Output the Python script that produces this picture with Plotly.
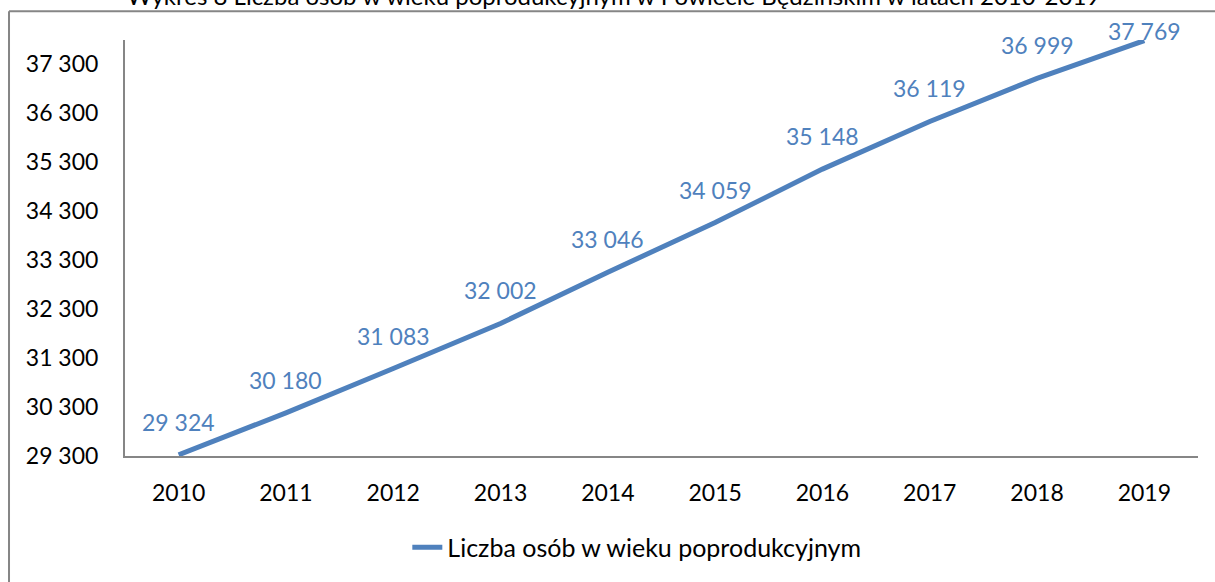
import plotly.graph_objects as go

# --- data ---
years = ["2010", "2011", "2012", "2013", "2014", "2015", "2016", "2017", "2018", "2019"]
values = [29324, 30180, 31083, 32002, 33046, 34059, 35148, 36119, 36999, 37769]
label_shift = [33, 33, 33, 33, 33, 33, 33, 33, 33, 10]

series_name = "Liczba osób w wieku poprodukcyjnym"
title_text = "Wykres 8 Liczba osób w wieku poprodukcyjnym w Powiecie Będzińskim w latach 2010-2019"

BLUE = "#4F81BD"
GRAY = "#868686"
FONT = "Lato, Calibri, sans-serif"

fig = go.Figure()

fig.add_trace(go.Scatter(
    x=years,
    y=values,
    mode="lines",
    line=dict(color=BLUE, width=5),
    name=series_name,
    showlegend=True,
))

# data labels above each point (x given as category index)
for i, (v, s) in enumerate(zip(values, label_shift)):
    fig.add_annotation(
        x=i, y=v, xref="x", yref="y",
        text=f"{v:,}".replace(",", " "),
        showarrow=False, yshift=s,
        font=dict(family=FONT, size=23, color=BLUE),
    )

# title, cut off at the top of the page as in the source
fig.add_annotation(
    x=0.4548, y=1.067, xref="paper", yref="paper",
    text=title_text, showarrow=False,
    xanchor="center", yanchor="bottom",
    font=dict(family=FONT, size=24, color="#000000"),
)

# outer chart frame (top and left edges visible)
fig.add_shape(type="line", xref="paper", yref="paper",
              x0=-0.1081, x1=1.05, y0=1.0694, y1=1.0694,
              line=dict(color=GRAY, width=2))
fig.add_shape(type="line", xref="paper", yref="paper",
              x0=-0.1081, x1=-0.1081, y0=1.0694, y1=-0.35,
              line=dict(color=GRAY, width=2))

fig.update_layout(
    width=1215, height=582,
    margin=dict(l=125, r=17, t=40, b=124),
    paper_bgcolor="white",
    plot_bgcolor="white",
    separators=", ",
    font=dict(family=FONT, size=23, color="#000000"),
    showlegend=True,
    legend=dict(
        orientation="h",
        x=0.477, xanchor="center",
        y=-0.22, yanchor="middle",
        font=dict(family=FONT, size=25, color="#000000"),
        bgcolor="rgba(0,0,0,0)",
    ),
    xaxis=dict(
        type="category",
        range=[-0.5, 9.5],
        showgrid=False,
        showline=True, linecolor=GRAY, linewidth=2,
        ticks="", ticklabelstandoff=15,
        zeroline=False,
    ),
    yaxis=dict(
        range=[29300, 37780],
        tick0=29300, dtick=1000,
        tickformat=",d",
        showgrid=False,
        showline=True, linecolor=GRAY, linewidth=2,
        ticks="", ticklabelstandoff=20,
        zeroline=False,
    ),
)

fig.write_html(
    "out.html",
    config={"displayModeBar": False},
    post_script="document.body.style.margin='0';",
)
